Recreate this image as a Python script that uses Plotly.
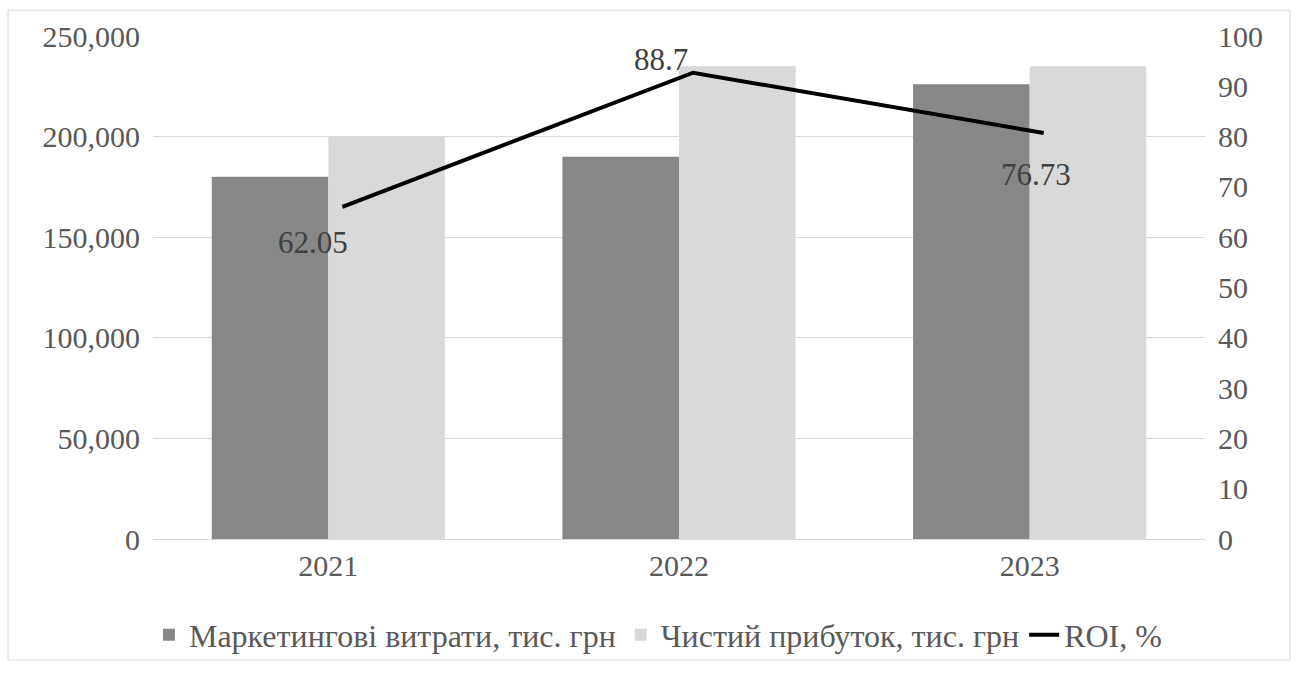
import plotly.graph_objects as go

years = ["2021", "2022", "2023"]
marketing = [180000, 190000, 226000]
net_profit = [200000, 235000, 235000]
roi = [62.05, 88.7, 76.73]
roi_labels = ["62.05", "88.7", "76.73"]

FONT = "Liberation Serif, Times New Roman, serif"
TICK_COLOR = "#595959"

fig = go.Figure()
fig.add_trace(go.Bar(x=years, y=marketing, name="Маркетингові витрати, тис. грн",
                     marker=dict(color="#878787", line=dict(width=0))))
fig.add_trace(go.Bar(x=years, y=net_profit, name="Чистий прибуток, тис. грн",
                     marker=dict(color="#d9d9d9", line=dict(width=0))))
# invisible copy so the right 0-100 axis is drawn
fig.add_trace(go.Scatter(x=years, y=roi, xaxis="x2", yaxis="y2", mode="lines",
                         line=dict(color="rgba(0,0,0,0)", width=0),
                         showlegend=False, hoverinfo="skip"))
fig.add_trace(go.Scatter(x=years, y=roi, name="ROI, %", mode="lines",
                         line=dict(color="black", width=4), xaxis="x2", yaxis="y3"))

annots = []
shifts = [(-15, -16), (-18, 33), (6, -21)]
for i, (v, t, (dx, dy)) in enumerate(zip(roi, roi_labels, shifts)):
    annots.append(dict(x=i, y=v, xref="x", yref="y2", text=t, showarrow=False,
                       xshift=dx, yshift=dy,
                       font=dict(family=FONT, size=31, color="#404040")))

fig.update_layout(
    width=1297, height=675,
    margin=dict(l=153, r=92, t=36, b=132),
    paper_bgcolor="white", plot_bgcolor="white",
    barmode="group", bargap=0.335, bargroupgap=0,
    font=dict(family=FONT, size=30, color=TICK_COLOR),
    xaxis=dict(type="category", showgrid=False, ticks="", showline=True,
               linecolor="#d9d9d9", linewidth=1, range=[-0.5, 2.5],
               tickfont=dict(family=FONT, size=30, color=TICK_COLOR)),
    xaxis2=dict(type="category", overlaying="x", visible=False, range=[-0.54, 2.46]),
    yaxis=dict(range=[0, 250000], dtick=50000, tickformat=",", showgrid=True,
               gridcolor="#d9d9d9", gridwidth=1, zeroline=False, ticks="",
               ticklabelstandoff=12,
               tickfont=dict(family=FONT, size=30, color=TICK_COLOR)),
    yaxis2=dict(overlaying="y", side="right", range=[0, 100], dtick=10,
                showgrid=False, zeroline=False, ticks="", ticklabelstandoff=12,
                tickfont=dict(family=FONT, size=30, color=TICK_COLOR)),
    yaxis3=dict(overlaying="y", side="right", range=[-4, 96], visible=False),
    legend=dict(orientation="h", x=0.48, xanchor="center", y=-0.191, yanchor="middle",
                font=dict(family=FONT, size=32, color=TICK_COLOR),
                bgcolor="rgba(0,0,0,0)",
                itemwidth=30, traceorder="normal"),
    annotations=annots,
    shapes=[dict(type="rect", xref="paper", yref="paper", layer="above",
                 x0=-0.1378, x1=1.0808, y0=-0.2406, y1=1.0513,
                 line=dict(color="#d9d9d9", width=1), fillcolor="rgba(0,0,0,0)")],
    showlegend=True,
)

fig.write_html("out.html")
